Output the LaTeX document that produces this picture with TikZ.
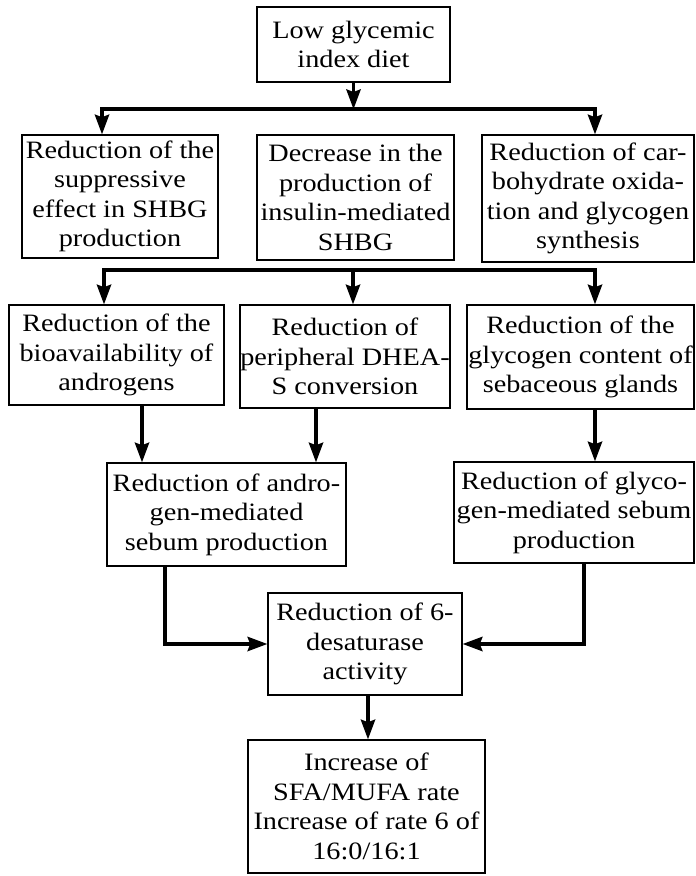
\documentclass[tikz,border=0pt]{standalone}
\usepackage{fontspec}
\setmainfont{Liberation Serif}[FakeStretch=1.13]
\usetikzlibrary{arrows.meta}
\tikzset{
  box/.style={draw=black, line width=1.6pt, align=center, inner sep=0pt,
    font=\fontsize{25}{29.5}\selectfont, text=black},
  conn/.style={draw=black, line width=3.4pt, line cap=rect},
  arr/.style={draw=black, line width=3.4pt, -{Stealth[length=20pt,width=15pt,inset=3pt,line width=0pt]}},
}
\begin{document}
\begin{tikzpicture}[x=1pt,y=-1pt]
\useasboundingbox (0,0) rectangle (696,876);
% boxes
\node[box, minimum width=193pt, minimum height=75pt] (top) at (353.5,44.5) {Low glycemic\\index diet};
\node[box, minimum width=196pt, minimum height=123pt] (a2) at (120,196.5) {Reduction of the\\suppressive\\effect in SHBG\\production};
\node[box, minimum width=197pt, minimum height=125pt] (b2) at (355.5,197.5) {Decrease in the\\production of\\insulin-mediated\\SHBG};
\node[box, minimum width=212pt, minimum height=127pt] (c2) at (588,198.5) {Reduction of car-\\bohydrate oxida-\\tion and glycogen\\synthesis};
\node[box, minimum width=215pt, minimum height=100pt] (a3) at (116.5,355) {Reduction of the\\bioavailability of\\androgens};
\node[box, minimum width=202pt, minimum height=103pt] (b3) at (345,356.5) {Reduction of\\peripheral DHEA-\\S conversion};
\node[box, minimum width=227pt, minimum height=104pt] (c3) at (580.5,357) {Reduction of the\\glycogen content of\\sebaceous glands};
\node[box, minimum width=239pt, minimum height=103pt] (d4) at (226.5,514.5) {Reduction of andro-\\gen-mediated\\sebum production};
\node[box, minimum width=240pt, minimum height=101pt] (e4) at (574,512.5) {Reduction of glyco-\\gen-mediated sebum\\production};
\node[box, minimum width=194pt, minimum height=102pt] (f5) at (365,644) {Reduction of 6-\\desaturase\\activity};
\node[box, minimum width=237pt, minimum height=133pt] (g6) at (366.5,806.5) {Increase of\\SFA/MUFA rate\\Increase of rate 6 of\\16:0/16:1};
% junction coordinates
\coordinate (h1L) at (102,109);
\coordinate (h1M) at (353.5,109);
\coordinate (h1R) at (595,109);
\coordinate (h2L) at (104,270);
\coordinate (h2M) at (353,270);
\coordinate (h2R) at (595,270);
\coordinate (v1) at (142,0);
\coordinate (v2) at (316,0);
\coordinate (v3) at (595,0);
\coordinate (v4) at (165,0);
\coordinate (v5) at (584,0);
\coordinate (v6) at (368,0);
% connectors
\draw[arr] (top.south) -- (h1M);
\draw[conn] (h1L) -- (h1R);
\draw[arr] (h1L) -- (h1L |- a2.north);
\draw[arr] (h1R) -- (h1R |- c2.north);
\draw[conn] (h2L) -- (h2R);
\draw[arr] (h2L) -- (h2L |- a3.north);
\draw[arr] (h2M) -- (h2M |- b3.north);
\draw[arr] (h2R) -- (h2R |- c3.north);
\draw[arr] (a3.south -| v1) -- (d4.north -| v1);
\draw[arr] (b3.south -| v2) -- (d4.north -| v2);
\draw[arr] (c3.south -| v3) -- (e4.north -| v3);
\draw[arr] (d4.south -| v4) |- (f5.west);
\draw[arr] (e4.south -| v5) |- (f5.east);
\draw[arr] (f5.south -| v6) -- (g6.north -| v6);
\end{tikzpicture}
\end{document}
